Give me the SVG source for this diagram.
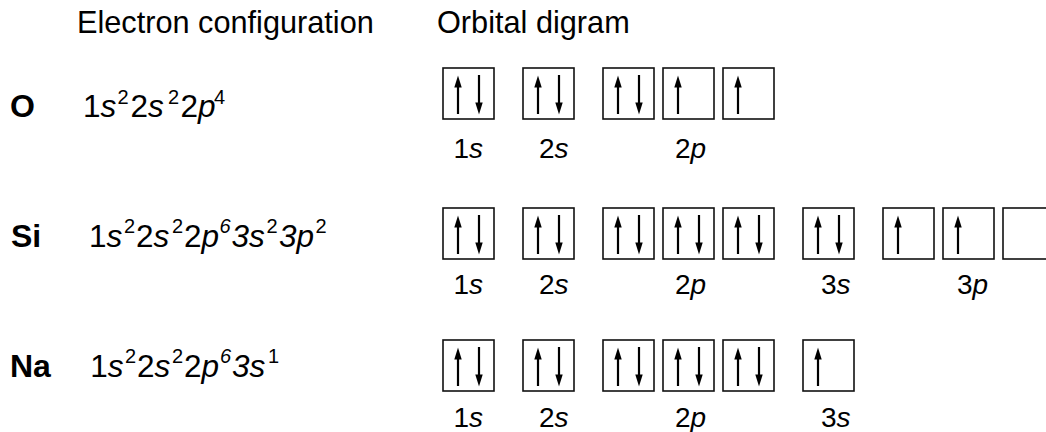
<svg xmlns="http://www.w3.org/2000/svg" xmlns:xlink="http://www.w3.org/1999/xlink" width="1046" height="432" viewBox="0 0 1046 432">
<style>
text{font-family:"Liberation Sans",Arial,sans-serif;fill:#000}
.hdr{font-size:30.7px}
.el{font-size:32px;font-weight:bold}
.cfg{font-size:31.5px}
.sup{font-size:20px}
.lbl{font-size:28px}
.it{font-style:italic}
.box{fill:#fff;stroke:#111;stroke-width:1.6}
.sh{stroke:#000;stroke-width:2.2;fill:none}
.hd{fill:#000;stroke:none}
</style>
<defs>
<g id="up"><line class="sh" x1="15" y1="18" x2="15" y2="46"/><path class="hd" d="M15,7.5 L11.3,19.5 L18.7,19.5Z"/></g>
<g id="dn"><line class="sh" x1="36" y1="7" x2="36" y2="35"/><path class="hd" d="M32.3,34.5 L39.7,34.5 L36,46.5Z"/></g>
<g id="pair"><rect class="box" x="0" y="0" width="51" height="51"/><use xlink:href="#up"/><use xlink:href="#dn"/></g>
<g id="single"><rect class="box" x="0" y="0" width="51" height="51"/><use xlink:href="#up"/></g>
<g id="empty"><rect class="box" x="0" y="0" width="51" height="51"/></g>
</defs>

<g id="headers">
<text class="hdr" x="77" y="33">Electron configuration</text>
<text class="hdr" x="437" y="33">Orbital digram</text>
</g>

<g id="oxygen">
<text class="el" x="10" y="117">O</text>
<text class="cfg" y="117"><tspan x="83">1</tspan><tspan class="it">s</tspan><tspan class="sup" x="117.5" y="103.5">2</tspan><tspan x="130.5" y="117">2</tspan><tspan class="it">s</tspan><tspan class="sup" x="168" y="103.5">2</tspan><tspan x="180.5" y="117">2</tspan><tspan class="it">p</tspan><tspan class="sup" x="214" y="103.5">4</tspan></text>
<use xlink:href="#pair" x="443" y="68"/>
<use xlink:href="#pair" x="523" y="68"/>
<use xlink:href="#pair" x="603" y="68"/>
<use xlink:href="#single" x="663" y="68"/>
<use xlink:href="#single" x="723" y="68"/>
<text class="lbl" x="453.5" y="158">1<tspan class="it">s</tspan></text>
<text class="lbl" x="539" y="158">2<tspan class="it">s</tspan></text>
<text class="lbl" x="675" y="158">2<tspan class="it">p</tspan></text>
</g>

<g id="silicon">
<text class="el" x="11" y="246.5">Si</text>
<text class="cfg" y="246.5"><tspan x="89">1</tspan><tspan class="it">s</tspan><tspan class="sup" x="124" y="233">2</tspan><tspan x="136" y="246.5">2</tspan><tspan class="it">s</tspan><tspan class="sup" x="172" y="233">2</tspan><tspan x="184" y="246.5">2</tspan><tspan class="it">p</tspan><tspan class="sup it" x="219.5" y="233">6</tspan><tspan class="it" x="231.5" y="246.5">3s</tspan><tspan class="sup" x="266.5" y="233">2</tspan><tspan class="it" x="279" y="246.5">3p</tspan><tspan class="sup" x="315.5" y="233">2</tspan></text>
<use xlink:href="#pair" x="443" y="208"/>
<use xlink:href="#pair" x="523" y="208"/>
<use xlink:href="#pair" x="603" y="208"/>
<use xlink:href="#pair" x="663" y="208"/>
<use xlink:href="#pair" x="723" y="208"/>
<use xlink:href="#pair" x="803" y="208"/>
<use xlink:href="#single" x="883" y="208"/>
<use xlink:href="#single" x="943" y="208"/>
<use xlink:href="#empty" x="1003" y="208"/>
<text class="lbl" x="453.5" y="294">1<tspan class="it">s</tspan></text>
<text class="lbl" x="539" y="294">2<tspan class="it">s</tspan></text>
<text class="lbl" x="675" y="294">2<tspan class="it">p</tspan></text>
<text class="lbl" x="821" y="294">3<tspan class="it">s</tspan></text>
<text class="lbl" x="957" y="294">3<tspan class="it">p</tspan></text>
</g>

<g id="sodium">
<text class="el" x="10" y="376.5">Na</text>
<text class="cfg" y="376.5"><tspan x="90.3">1</tspan><tspan class="it">s</tspan><tspan class="sup" x="125" y="363">2</tspan><tspan x="137" y="376.5">2</tspan><tspan class="it">s</tspan><tspan class="sup" x="172" y="363">2</tspan><tspan x="184" y="376.5">2</tspan><tspan class="it">p</tspan><tspan class="sup it" x="220" y="363">6</tspan><tspan class="it" x="232" y="376.5">3s</tspan><tspan class="sup" x="268" y="363">1</tspan></text>
<use xlink:href="#pair" x="443" y="340"/>
<use xlink:href="#pair" x="523" y="340"/>
<use xlink:href="#pair" x="603" y="340"/>
<use xlink:href="#pair" x="663" y="340"/>
<use xlink:href="#pair" x="723" y="340"/>
<use xlink:href="#single" x="803" y="340"/>
<text class="lbl" x="453.5" y="426.5">1<tspan class="it">s</tspan></text>
<text class="lbl" x="539" y="426.5">2<tspan class="it">s</tspan></text>
<text class="lbl" x="675" y="426.5">2<tspan class="it">p</tspan></text>
<text class="lbl" x="821" y="426.5">3<tspan class="it">s</tspan></text>
</g>
</svg>
